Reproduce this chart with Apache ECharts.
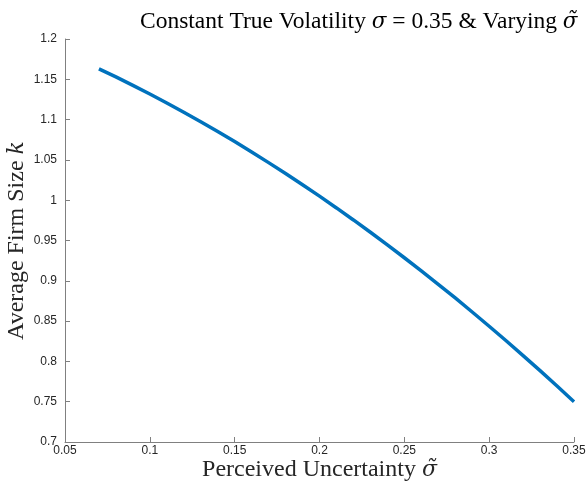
<!DOCTYPE html>
<html>
<head>
<meta charset="utf-8">
<script src="https://cdn.jsdelivr.net/npm/echarts@6/dist/echarts.min.js"></script>
<style>
html,body{margin:0;padding:0;background:#fff;}
#chart{width:587px;height:485px;}
</style>
</head>
<body>
<div id="chart"></div>
<script>
// Perceived uncertainty (sigma tilde)
const sigmaTilde = [0.07,0.08,0.09,0.10,0.11,0.12,0.13,0.14,0.15,0.16,0.17,0.18,0.19,0.20,
  0.21,0.22,0.23,0.24,0.25,0.26,0.27,0.28,0.29,0.30,0.31,0.32,0.33,0.34,0.35];
// Average firm size k
const firmSize = [1.163,1.153,1.1425,1.1317,1.1206,1.1091,1.0973,1.0852,1.0727,1.0598,1.0466,1.0331,1.0192,1.005,
  0.9904,0.9755,0.9602,0.9446,0.9286,0.9123,0.8957,0.8787,0.8613,0.8436,0.8256,0.8072,0.7885,0.7694,0.75];

const chart = echarts.init(document.getElementById('chart'), null, {renderer:'canvas'});
const serif = 'Liberation Serif';
const sans = 'Liberation Sans';
const axisColor = '#808080';
const ital = (size)=>({fontFamily:'DejaVu Serif', fontStyle:'italic', fontSize:size-2, color:'#000'});
chart.setOption({
  animation:false,
  backgroundColor:'#fff',
  title:{
    text:'Constant True Volatility {i|σ} = 0.35 & Varying {i|σ̃}',
    left:135, top:5,
    textStyle:{fontFamily:serif, fontSize:23.5, fontWeight:'normal', color:'#000',
      rich:{i:ital(23.5)}}
  },
  grid:{left:65, right:13, top:39, bottom:43, containLabel:false, outerBoundsMode:'none'},
  xAxis:{
    type:'value', min:0.05, max:0.35, interval:0.05,
    name:'Perceived Uncertainty {i|σ̃}', nameLocation:'middle', nameGap:16, nameMoveOverlap:false,
    nameTextStyle:{fontFamily:serif, fontSize:24, color:'#262626',
      rich:{i:Object.assign(ital(24),{color:'#262626'})}},
    axisLine:{show:true, lineStyle:{color:axisColor, width:1}},
    axisTick:{show:true, inside:true, length:5, lineStyle:{color:axisColor}},
    axisLabel:{fontFamily:sans, fontSize:12, color:'#262626', margin:3},
    splitLine:{show:false}
  },
  yAxis:{
    type:'value', min:0.7, max:1.2, interval:0.05,
    name:'Average Firm Size {i|k}', nameLocation:'middle', nameGap:36, nameRotate:90, nameMoveOverlap:false,
    nameTextStyle:{fontFamily:serif, fontSize:24, color:'#262626',
      rich:{i:Object.assign(ital(24),{color:'#262626'})}},
    axisLine:{show:true, lineStyle:{color:axisColor, width:1}},
    axisTick:{show:true, inside:true, length:5, lineStyle:{color:axisColor}},
    axisLabel:{fontFamily:sans, fontSize:12, color:'#262626', margin:8},
    splitLine:{show:false}
  },
  series:[{
    type:'line',
    data: sigmaTilde.map((s,i)=>[s, firmSize[i]]),
    showSymbol:false, smooth:false,
    lineStyle:{color:'#0072BD', width:3.5}
  }]
});
</script>
</body>
</html>
